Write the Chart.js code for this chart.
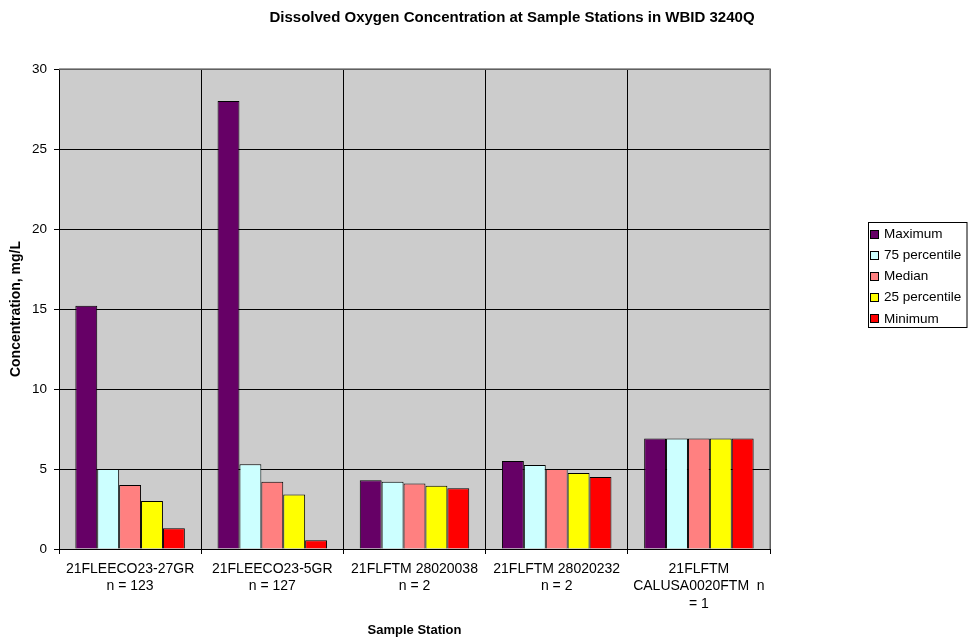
<!DOCTYPE html>
<html>
<head>
<meta charset="utf-8">
<title>Dissolved Oxygen Concentration</title>
<script src="https://cdn.jsdelivr.net/npm/chart.js@4/dist/chart.umd.min.js"></script>
<style>
  html, body { margin: 0; padding: 0; background: #ffffff; }
  #wrap { width: 968px; height: 638px; position: relative; }
</style>
</head>
<body>
<div id="wrap"><canvas id="c" width="968" height="638"></canvas></div>
<script>
// Sample stations (multi-line category labels)
const stations = [
  ['21FLEECO23-27GR', 'n = 123'],
  ['21FLEECO23-5GR', 'n = 127'],
  ['21FLFTM 28020038', 'n = 2'],
  ['21FLFTM 28020232', 'n = 2'],
  ['21FLFTM', 'CALUSA0020FTM  n', '= 1']
];

// Dissolved oxygen statistics, mg/L
const maximum = [15.2, 28.0, 4.3, 5.5, 6.9];
const pct75   = [5.0, 5.3, 4.2, 5.25, 6.9];
const median  = [4.0, 4.2, 4.1, 5.0, 6.9];
const pct25   = [3.0, 3.4, 3.95, 4.75, 6.9];
const minimum = [1.3, 0.55, 3.8, 4.5, 6.9];

const seriesNames = ['Maximum', '75 percentile', 'Median', '25 percentile', 'Minimum'];
const seriesColors = ['#660066', '#ccffff', '#ff8080', '#ffff00', '#ff0000'];

const yTicks = [0, 5, 10, 15, 20, 25, 30];

const FONT = "'Liberation Sans', Arial, sans-serif";

// Gray plot background
const plotBackground = {
  id: 'plotBackground',
  beforeDraw(chart) {
    const { ctx, chartArea: a } = chart;
    ctx.save();
    ctx.fillStyle = '#cccccc';
    ctx.fillRect(a.left, a.top, a.right - a.left, a.bottom - a.top);
    ctx.restore();
  }
};

// Gray frame along the top and right of the plot area
const plotFrame = {
  id: 'plotFrame',
  afterDatasetsDraw(chart) {
    const { ctx, chartArea: a } = chart;
    ctx.save();
    ctx.strokeStyle = '#808080';
    ctx.lineWidth = 1.5;
    ctx.beginPath();
    ctx.moveTo(a.left, a.top);
    ctx.lineTo(a.right, a.top);
    ctx.lineTo(a.right, a.bottom);
    ctx.stroke();
    ctx.restore();
  }
};

// Chart heading
const heading = {
  id: 'heading',
  afterDraw(chart) {
    const { ctx } = chart;
    ctx.save();
    ctx.fillStyle = '#000000';
    ctx.font = 'bold 15px ' + FONT;
    ctx.textAlign = 'center';
    ctx.textBaseline = 'middle';
    ctx.fillText('Dissolved Oxygen Concentration at Sample Stations in WBID 3240Q', 512, 18);
    ctx.restore();
  }
};

// Boxed legend to the right of the plot
const boxedLegend = {
  id: 'boxedLegend',
  afterDraw(chart) {
    const { ctx } = chart;
    const x0 = 868, y0 = 222, w = 99.5, h = 106;
    ctx.save();
    ctx.fillStyle = '#ffffff';
    ctx.fillRect(x0, y0, w, h);
    ctx.strokeStyle = '#000000';
    ctx.lineWidth = 1;
    ctx.strokeRect(x0 + 0.5, y0 + 0.5, w - 1, h - 1);
    ctx.font = '13.5px ' + FONT;
    ctx.textAlign = 'left';
    ctx.textBaseline = 'middle';
    chart.data.datasets.forEach((ds, i) => {
      const cy = 234 + i * 21.2;
      ctx.fillStyle = ds.backgroundColor;
      ctx.fillRect(870.5, Math.round(cy - 4.5) + 0.5, 8, 8);
      ctx.strokeStyle = '#000000';
      ctx.strokeRect(870.5, Math.round(cy - 4.5) + 0.5, 8, 8);
      ctx.fillStyle = '#000000';
      ctx.fillText(ds.label, 884, cy);
    });
    ctx.restore();
  }
};

const datasets = [maximum, pct75, median, pct25, minimum].map((values, i) => ({
  label: seriesNames[i],
  data: values,
  backgroundColor: seriesColors[i],
  borderColor: '#000000',
  borderWidth: 1,
  categoryPercentage: 0.77,
  barPercentage: 1.0
}));

new Chart(document.getElementById('c'), {
  type: 'bar',
  data: { labels: stations, datasets },
  options: {
    responsive: false,
    animation: false,
    layout: { padding: { top: 69, right: 198, left: 0, bottom: 0 } },
    plugins: {
      legend: { display: false },
      title: { display: false },
      tooltip: { enabled: false }
    },
    scales: {
      x: {
        grid: {
          offset: true,
          color: '#000000',
          lineWidth: 1,
          drawTicks: true,
          tickLength: 5
        },
        border: { color: '#000000', width: 1 },
        ticks: {
          color: '#000000',
          font: { family: FONT, size: 14, lineHeight: 1.25 },
          padding: 6,
          maxRotation: 0,
          autoSkip: false
        },
        title: {
          display: true,
          text: 'Sample Station',
          color: '#000000',
          font: { family: FONT, size: 13, weight: 'bold', lineHeight: 1.2 },
          padding: { top: 2, bottom: 0 }
        },
        afterFit(scale) { scale.height = 89; }
      },
      y: {
        min: 0,
        max: 30,
        afterBuildTicks(scale) { scale.ticks = yTicks.map(v => ({ value: v })); },
        grid: {
          color: '#000000',
          lineWidth: 1,
          drawTicks: true,
          tickLength: 5
        },
        border: { color: '#000000', width: 1 },
        ticks: {
          color: '#000000',
          font: { family: FONT, size: 13.5 },
          padding: 7
        },
        title: {
          display: true,
          text: 'Concentration, mg/L',
          color: '#000000',
          font: { family: FONT, size: 14, weight: 'bold', lineHeight: 1.2 },
          padding: { top: 8, bottom: 0 }
        },
        afterFit(scale) { scale.width = 59; }
      }
    }
  },
  plugins: [plotBackground, plotFrame, heading, boxedLegend]
});
</script>
</body>
</html>
